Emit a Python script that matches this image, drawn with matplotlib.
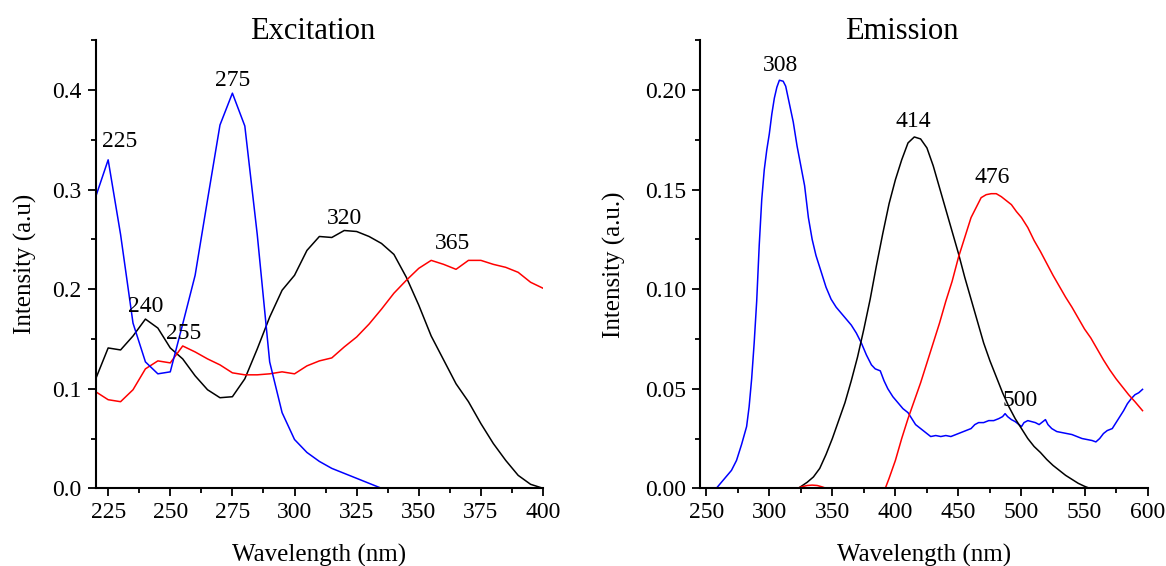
import matplotlib
matplotlib.use("Agg")
import matplotlib.pyplot as plt
from matplotlib.ticker import MultipleLocator, FormatStrFormatter

plt.rcParams["font.family"] = ["Liberation Serif", "DejaVu Serif"]

# ---- excitation spectra, 5 nm steps ----
ex_wl = [220, 225, 230, 235, 240, 245, 250, 255, 260, 265, 270, 275, 280,
         285, 290, 295, 300, 305, 310, 315, 320, 325, 330, 335, 340, 345,
         350, 355, 360, 365, 370, 375, 380, 385, 390, 395, 400]
ex_blue = [0.293, 0.330, 0.255, 0.166, 0.127, 0.115, 0.117, 0.165, 0.214,
           0.290, 0.365, 0.397, 0.364, 0.255, 0.127, 0.076, 0.049, 0.036,
           0.027, 0.020, 0.015, 0.010, 0.005, 0.000, 0.000, 0.000, 0.000,
           0.000, 0.000, 0.000, 0.000, 0.000, 0.000, 0.000, 0.000, 0.000,
           0.000]
ex_black = [0.110, 0.141, 0.139, 0.153, 0.170, 0.161, 0.141, 0.130, 0.113,
            0.099, 0.091, 0.092, 0.110, 0.140, 0.172, 0.199, 0.214, 0.239,
            0.253, 0.252, 0.259, 0.258, 0.253, 0.246, 0.235, 0.212, 0.184,
            0.153, 0.129, 0.105, 0.087, 0.065, 0.045, 0.028, 0.013, 0.004,
            0.000]
ex_red = [0.097, 0.089, 0.087, 0.099, 0.120, 0.128, 0.126, 0.143, 0.137,
          0.130, 0.124, 0.116, 0.114, 0.114, 0.115, 0.117, 0.115, 0.123,
          0.128, 0.131, 0.142, 0.152, 0.165, 0.180, 0.196, 0.209, 0.221,
          0.229, 0.225, 0.220, 0.229, 0.229, 0.225, 0.222, 0.217, 0.207,
          0.201]
ex_peaks = [("225", 229.5, 0.348), ("275", 275, 0.410), ("240", 240.2, 0.1825),
            ("255", 255.3, 0.1557), ("320", 320, 0.2713), ("365", 363.5, 0.2455)]

# ---- emission spectra ----
em_blue_wl = [245, 258, 262, 266, 270, 274, 278, 282, 284, 286, 288, 290, 292,
              294, 296, 298, 300, 302, 304, 306, 308, 311, 313, 316, 319, 322,
              325, 328, 331, 334, 337, 341, 345, 349, 353, 357, 361, 365, 369,
              373, 377, 381, 384, 388, 391, 394, 398, 402, 406, 410, 413, 416,
              420, 424, 428, 432, 436, 440, 444, 448, 452, 456, 460, 463, 466,
              470, 474, 478, 482, 485, 487, 489, 492, 495, 498, 500, 502, 505,
              508, 511, 514, 517, 519, 521, 524, 528, 532, 536, 540, 544, 548,
              552, 556, 559, 562, 565, 568, 572, 575, 578, 581, 584, 587, 590,
              593, 596]
em_blue = [0.0, 0.0, 0.003, 0.006, 0.009, 0.014, 0.022, 0.031, 0.041, 0.055,
           0.073, 0.094, 0.122, 0.145, 0.160, 0.170, 0.178, 0.188, 0.196,
           0.2015, 0.205, 0.2045, 0.202, 0.193, 0.184, 0.172, 0.162, 0.152,
           0.136, 0.125, 0.117, 0.109, 0.101, 0.095, 0.091, 0.088, 0.085,
           0.082, 0.078, 0.073, 0.067, 0.062, 0.060, 0.059, 0.054, 0.050,
           0.046, 0.043, 0.040, 0.038, 0.035, 0.032, 0.030, 0.028, 0.026,
           0.0265, 0.026, 0.0265, 0.026, 0.027, 0.028, 0.029, 0.030, 0.032,
           0.033, 0.033, 0.034, 0.034, 0.035, 0.036, 0.0375, 0.036, 0.0345,
           0.0335, 0.032, 0.031, 0.033, 0.034, 0.0335, 0.033, 0.032, 0.0335,
           0.0345, 0.032, 0.030, 0.0285, 0.028, 0.0275, 0.027, 0.026, 0.025,
           0.0245, 0.024, 0.0233, 0.025, 0.0275, 0.029, 0.030, 0.033, 0.036,
           0.039, 0.0425, 0.045, 0.047, 0.048, 0.0497]

em_black_wl = [245, 323, 330, 335, 340, 345, 350, 355, 360, 365, 370, 375, 380,
               385, 390, 395, 400, 405, 410, 415, 420, 425, 430, 435, 440, 445,
               450, 455, 460, 465, 470, 475, 480, 485, 490, 495, 500, 505, 510,
               515, 520, 525, 530, 535, 540, 545, 550, 554]
em_black = [0.0, 0.0, 0.003, 0.0057, 0.010, 0.017, 0.025, 0.034, 0.043, 0.054,
            0.066, 0.080, 0.095, 0.112, 0.128, 0.143, 0.155, 0.165, 0.1735,
            0.1765, 0.1755, 0.171, 0.162, 0.151, 0.140, 0.129, 0.118, 0.106,
            0.095, 0.084, 0.073, 0.064, 0.056, 0.048, 0.041, 0.035, 0.030,
            0.025, 0.021, 0.018, 0.0145, 0.0115, 0.009, 0.0065, 0.0045,
            0.0025, 0.001, 0.0]

em_red_wl = [258, 322, 326, 330, 334, 338, 342, 345, 392, 395, 400, 405, 410,
             415, 420, 425, 430, 435, 440, 445, 450, 455, 460, 464, 468, 472,
             476, 480, 484, 488, 492, 496, 500, 505, 510, 515, 520, 525, 530,
             535, 540, 545, 550, 555, 560, 565, 570, 575, 580, 585, 590, 596]
em_red = [0.0, 0.0, 0.0008, 0.0014, 0.0016, 0.0014, 0.0007, 0.0, 0.0, 0.005,
          0.014, 0.025, 0.035, 0.044, 0.053, 0.063, 0.073, 0.083, 0.094,
          0.104, 0.116, 0.126, 0.136, 0.141, 0.146, 0.1475, 0.148, 0.148,
          0.1465, 0.1445, 0.1425, 0.139, 0.136, 0.131, 0.1245, 0.119, 0.113,
          0.107, 0.1015, 0.096, 0.091, 0.0855, 0.080, 0.0755, 0.070, 0.0645,
          0.0595, 0.055, 0.051, 0.047, 0.0435, 0.039]
em_peaks = [("308", 309, 0.2125), ("414", 414.5, 0.1845), ("476", 476.5, 0.156),
            ("500", 499, 0.0442)]


def style_axes(ax):
    ax.spines["top"].set_visible(False)
    ax.spines["right"].set_visible(False)
    for s in ("left", "bottom"):
        ax.spines[s].set_linewidth(1.5)
    ax.tick_params(which="major", direction="out", length=6, width=1.3,
                   labelsize=17, pad=4)
    ax.tick_params(which="minor", direction="out", length=3.5, width=1.3)


fig = plt.figure(figsize=(11.66, 5.66), dpi=100)
ax1 = fig.add_axes([0.0821, 0.1373, 0.3836, 0.7913])
ax2 = fig.add_axes([0.6003, 0.1373, 0.3839, 0.7913])

# excitation panel
ax1.plot(ex_wl, ex_black, color="black", lw=1.1)
ax1.plot(ex_wl, ex_red, color="#ff0000", lw=1.1)
ax1.plot(ex_wl, ex_blue, color="#0000ff", lw=1.1)
for txt, x, y in ex_peaks:
    ax1.text(x, y, txt, ha="center", va="center", fontsize=17)
ax1.set_xlim(220, 400)
ax1.set_ylim(0, 0.45)
ax1.xaxis.set_major_locator(MultipleLocator(25))
ax1.xaxis.set_minor_locator(MultipleLocator(12.5))
ax1.yaxis.set_major_locator(MultipleLocator(0.1))
ax1.yaxis.set_minor_locator(MultipleLocator(0.05))
ax1.yaxis.set_major_formatter(FormatStrFormatter("%.1f"))
style_axes(ax1)
ax1.set_title("Excitation", fontsize=22, x=0.486, y=1.003, pad=0)
ax1.set_xlabel("Wavelength (nm)", fontsize=18, va="center")
ax1.set_ylabel("Intensity (a.u)", fontsize=18, va="center")
ax1.xaxis.set_label_coords(0.5, -0.149)
ax1.yaxis.set_label_coords(-0.158, 0.5)

# emission panel
ax2.plot(em_blue_wl, em_blue, color="#0000ff", lw=1.1)
ax2.plot(em_black_wl, em_black, color="black", lw=1.1)
ax2.plot(em_red_wl, em_red, color="#ff0000", lw=1.1)
for txt, x, y in em_peaks:
    ax2.text(x, y, txt, ha="center", va="center", fontsize=17)
ax2.set_xlim(245, 600)
ax2.set_ylim(0, 0.225)
ax2.xaxis.set_major_locator(MultipleLocator(50))
ax2.xaxis.set_minor_locator(MultipleLocator(25))
ax2.yaxis.set_major_locator(MultipleLocator(0.05))
ax2.yaxis.set_minor_locator(MultipleLocator(0.025))
ax2.yaxis.set_major_formatter(FormatStrFormatter("%.2f"))
style_axes(ax2)
ax2.set_title("Emission", fontsize=22, x=0.451, y=1.003, pad=0)
ax2.set_xlabel("Wavelength (nm)", fontsize=18, va="center")
ax2.set_ylabel("Intensity (a.u.)", fontsize=18, va="center")
ax2.xaxis.set_label_coords(0.5, -0.149)
ax2.yaxis.set_label_coords(-0.19, 0.5)

fig.savefig("out.png", dpi=100)
